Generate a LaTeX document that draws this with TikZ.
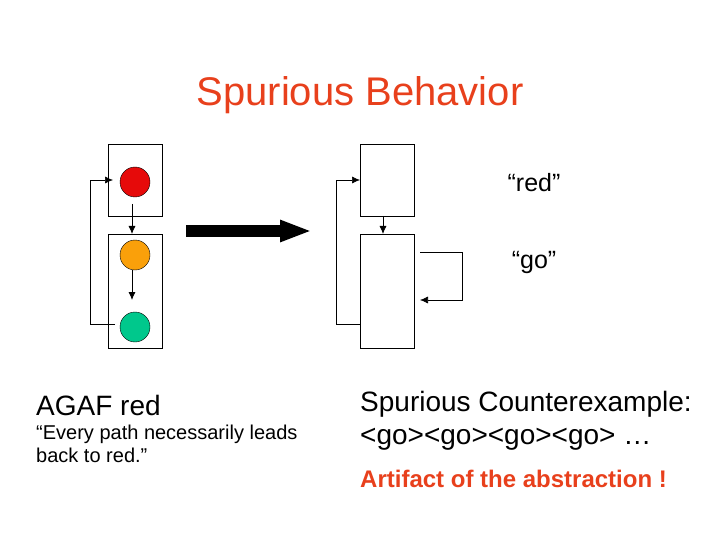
\documentclass[tikz,border=0pt]{standalone}
\usepackage{fontspec}
\setmainfont{Liberation Sans}
\usetikzlibrary{arrows.meta,positioning}
\definecolor{titlered}{RGB}{232,64,28}
\definecolor{lampred}{RGB}{230,10,10}
\definecolor{lamporange}{RGB}{250,160,10}
\definecolor{lampgreen}{RGB}{0,200,140}
\tikzset{
  state/.style={draw, thick, minimum width=54pt},
  lamp/.style={draw, circle, minimum size=30pt, inner sep=0pt},
  flow/.style={-{Latex[length=8pt,width=7pt]}, semithick},
  txt/.style={anchor=west, inner sep=0pt, align=left}
}
\begin{document}
\begin{tikzpicture}[x=1pt,y=-1pt]
\useasboundingbox (0,0) rectangle (720,540);
\node[text=titlered, font=\fontsize{40}{44}\selectfont] (title) at (360,95) {Spurious Behavior};

% concrete traffic light
\node[state, minimum height=72pt] (top1) at (135,180) {};
\node[state, minimum height=114pt] (bot1) at (135,291) {};
\node[lamp, fill=lampred] (red) at (135,182) {};
\node[lamp, fill=lamporange] (orange) at (135,255) {};
\node[lamp, fill=lampgreen] (green) at (135,327) {};
\coordinate (a1) at (132,204);
\coordinate (a2) at (132,234);
\coordinate (a3) at (132,270);
\coordinate (a4) at (132,300);
\draw[flow, thick] (a1) -- (a2);
\draw[flow, thick] (a3) -- (a4);
\coordinate (f1) at (115,324);
\coordinate (f2) at (113,180);
\draw[flow] (f1) -- (90,324) |- (f2);

% abstraction arrow
\coordinate (ba) at (186,231);
\coordinate (bb) at (312,231);
\draw[line width=11pt, -{Triangle[length=32pt,width=20pt]}] (ba) -- (bb);

% abstract model
\node[state, minimum height=72pt] (top2) at (387,180) {};
\node[state, minimum height=114pt] (bot2) at (387,291) {};
\draw[flow, thick] (383,216) -- (383,234);
\coordinate (g1) at (360,324);
\coordinate (g2) at (360,180);
\draw[flow] (g1) -- (336,324) |- (g2);
\coordinate (s1) at (420,252);
\coordinate (s2) at (420,300);
\draw[flow] (s1) -- (462,252) |- (s2);
\node[font=\fontsize{25}{28}\selectfont] (lred) at (534,183) {“red”};
\node[font=\fontsize{25}{28}\selectfont] (lgo) at (534,262) {“go”};

% texts
\node[txt, font=\fontsize{28}{32}\selectfont] (agaf) at (36,405) {AGAF red};
\node[txt, font=\fontsize{20}{23}\selectfont] (every) at (36,444) {“Every path necessarily leads\\back to red.”};
\node[txt, font=\fontsize{28}{33}\selectfont] (spur) at (360,421) {Spurious Counterexample:\\<go><go><go><go> …};
\node[txt, text=titlered, font=\bfseries\fontsize{24}{28}\selectfont] (art) at (360,479) {Artifact of the abstraction !};
\end{tikzpicture}
\end{document}
